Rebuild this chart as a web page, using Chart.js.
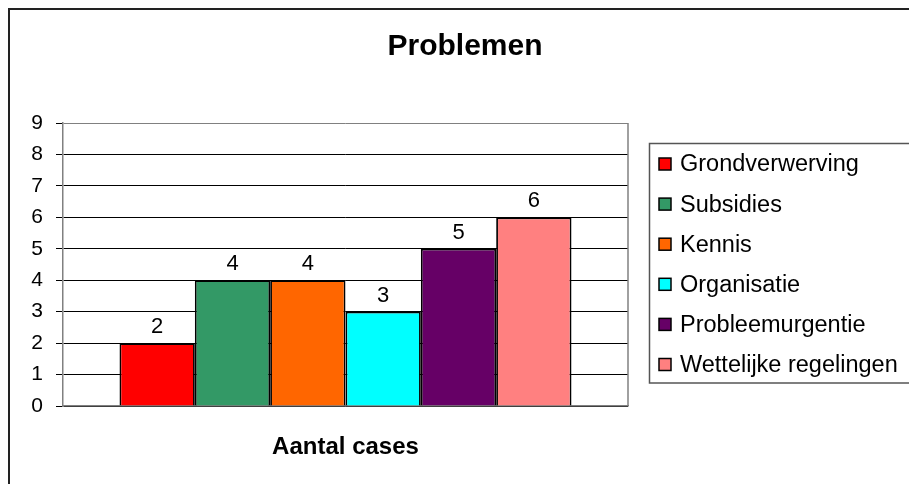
<!DOCTYPE html>
<html>
<head>
<meta charset="utf-8">
<script src="https://cdn.jsdelivr.net/npm/chart.js@4.4.1/dist/chart.umd.min.js"></script>
<style>
html,body{margin:0;padding:0;background:#fff;}
#wrap{width:909px;height:484px;position:relative;}
</style>
</head>
<body>
<div id="wrap"><canvas id="c" width="909" height="484"></canvas></div>
<script>
const chartTitle = "Problemen";
const categories = ["Aantal cases"];
const seriesNames = ["Grondverwerving","Subsidies","Kennis","Organisatie","Probleemurgentie","Wettelijke regelingen"];
const seriesValues = [[2],[4],[4],[3],[5],[6]];
const seriesColors = ["#FF0000","#339966","#FF6600","#00FFFF","#660066","#FF8080"];
const yTicks = [0,1,2,3,4,5,6,7,8,9];

const FONT = "'Liberation Sans', Arial, sans-serif";

const decor = {
  id: 'decor',
  beforeDraw(chart) {
    const ctx = chart.ctx;
    ctx.save();
    ctx.fillStyle = '#fff';
    ctx.fillRect(0, 0, chart.width, chart.height);
    ctx.restore();
  },
  afterDraw(chart) {
    const ctx = chart.ctx;
    const a = chart.chartArea;
    ctx.save();
    // plot area right border
    ctx.strokeStyle = '#808080';
    ctx.lineWidth = 1.5;
    ctx.beginPath();
    ctx.moveTo(a.right, a.top);
    ctx.lineTo(a.right, a.bottom);
    ctx.stroke();
    // data labels
    ctx.fillStyle = '#000';
    ctx.font = '22px ' + FONT;
    ctx.textAlign = 'center';
    ctx.textBaseline = 'alphabetic';
    chart.data.datasets.forEach((ds, i) => {
      const meta = chart.getDatasetMeta(i);
      meta.data.forEach((bar, j) => {
        ctx.fillText(String(ds.data[j]), bar.x, bar.y - 10);
      });
    });
    // title
    ctx.font = 'bold 30px ' + FONT;
    ctx.textBaseline = 'middle';
    ctx.fillText(chartTitle, 465, 47);
    // legend
    const lx = 649.5, ly = 143.5, lh = 239.5;
    ctx.strokeStyle = '#555';
    ctx.lineWidth = 1.5;
    ctx.strokeRect(lx, ly, 300, lh);
    ctx.font = '23.5px ' + FONT;
    ctx.textAlign = 'left';
    chart.data.datasets.forEach((ds, i) => {
      const cy = 164 + i * 40.1;
      ctx.fillStyle = ds.backgroundColor;
      ctx.fillRect(659, cy - 6, 12, 12);
      ctx.strokeStyle = '#000';
      ctx.lineWidth = 1.5;
      ctx.strokeRect(659, cy - 6, 12, 12);
      ctx.fillStyle = '#000';
      ctx.fillText(ds.label, 680, cy + 1);
    });
    // outer border
    ctx.strokeStyle = '#222';
    ctx.lineWidth = 2;
    ctx.beginPath();
    ctx.moveTo(9, 490);
    ctx.lineTo(9, 9);
    ctx.lineTo(920, 9);
    ctx.stroke();
    ctx.restore();
  }
};

new Chart(document.getElementById('c'), {
  type: 'bar',
  data: {
    labels: categories,
    datasets: seriesNames.map((n, i) => ({
      label: n,
      data: seriesValues[i],
      backgroundColor: seriesColors[i],
      borderColor: '#000',
      borderWidth: 1.8,
      barPercentage: 1.0,
      categoryPercentage: 0.8
    }))
  },
  options: {
    responsive: false,
    animation: false,
    devicePixelRatio: 1,
    layout: { padding: { left: 0, right: 281, top: 123, bottom: 0 } },
    plugins: { legend: { display: false }, title: { display: false }, tooltip: { enabled: false } },
    scales: {
      x: {
        grid: { display: false, drawTicks: false },
        border: { color: '#808080', width: 1.5 },
        ticks: { color: '#000', font: { family: FONT, size: 24, weight: 'bold' }, padding: 27 },
        afterFit(s) { s.height = 484 - 406; }
      },
      y: {
        min: 0, max: 9,
        afterBuildTicks(s) { s.ticks = yTicks.map(v => ({ value: v })); },
        grid: {
          color: (c) => (c.tick && c.tick.value === 9) ? '#808080' : '#000',
          lineWidth: 1,
          tickLength: 7,
          tickColor: '#000'
        },
        border: { color: '#808080', width: 1.5 },
        ticks: { color: '#000', font: { family: FONT, size: 21 }, padding: 13, stepSize: 1 },
        afterFit(s) { s.width = 63; }
      }
    }
  },
  plugins: [decor]
});
</script>
</body>
</html>
